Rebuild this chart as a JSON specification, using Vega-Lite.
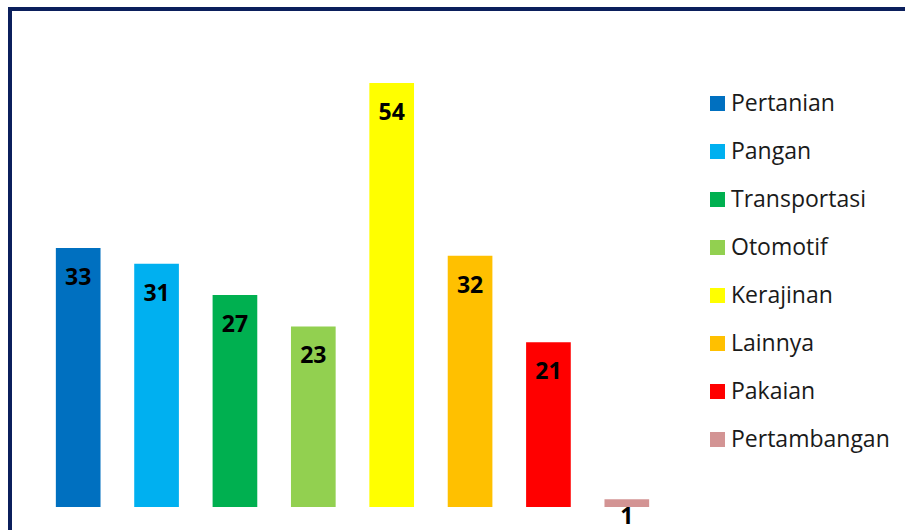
{
  "$schema": "https://vega.github.io/schema/vega-lite/v6.json",
  "width": 1000,
  "height": 560,
  "padding": {"left": 10, "top": 9, "right": 0, "bottom": 0},
  "autosize": {"type": "none"},
  "background": "white",
  "config": {
    "view": {"stroke": "#0B1F5C", "strokeWidth": 4},
    "font": "Open Sans"
  },
  "data": {
    "values": [
      {"kategori": "Pertanian", "jumlah": 33},
      {"kategori": "Pangan", "jumlah": 31},
      {"kategori": "Transportasi", "jumlah": 27},
      {"kategori": "Otomotif", "jumlah": 23},
      {"kategori": "Kerajinan", "jumlah": 54},
      {"kategori": "Lainnya", "jumlah": 32},
      {"kategori": "Pakaian", "jumlah": 21},
      {"kategori": "Pertambangan", "jumlah": 1}
    ]
  },
  "encoding": {
    "x": {
      "field": "kategori",
      "type": "nominal",
      "sort": null,
      "axis": null,
      "scale": {"range": [29, 656], "paddingInner": 0.43, "paddingOuter": 0.215}
    },
    "y": {
      "field": "jumlah",
      "type": "quantitative",
      "axis": null,
      "scale": {"domain": [0, 60], "range": [498, 27], "nice": false, "zero": true}
    }
  },
  "layer": [
    {
      "mark": {"type": "bar"},
      "encoding": {
        "color": {
          "field": "kategori",
          "type": "nominal",
          "sort": null,
          "scale": {
            "domain": ["Pertanian", "Pangan", "Transportasi", "Otomotif", "Kerajinan", "Lainnya", "Pakaian", "Pertambangan"],
            "range": ["#0070C0", "#00B0F0", "#00B050", "#92D050", "#FFFF00", "#FFC000", "#FF0000", "#D39494"]
          },
          "legend": {
            "title": null,
            "orient": "none",
            "legendX": 696,
            "legendY": 83,
            "symbolType": "square",
            "symbolSize": 225,
            "symbolStrokeWidth": 0,
            "labelFont": "Open Sans",
            "labelFontSize": 23,
            "labelColor": "#1a1a1a",
            "labelOffset": 2,
            "rowPadding": 24,
            "symbolOffset": 0,
            "labelLimit": 300
          }
        }
      }
    },
    {
      "transform": [{"filter": "datum.jumlah > 5"}],
      "mark": {"type": "text", "dy": 30, "fontSize": 23, "fontWeight": "bold", "color": "#000000", "font": "Open Sans", "baseline": "middle"},
      "encoding": {"text": {"field": "jumlah", "type": "quantitative"}}
    },
    {
      "transform": [{"filter": "datum.jumlah <= 5"}],
      "mark": {"type": "text", "dy": 18, "fontSize": 23, "fontWeight": "bold", "color": "#000000", "font": "Open Sans", "baseline": "middle"},
      "encoding": {"text": {"field": "jumlah", "type": "quantitative"}}
    }
  ]
}
